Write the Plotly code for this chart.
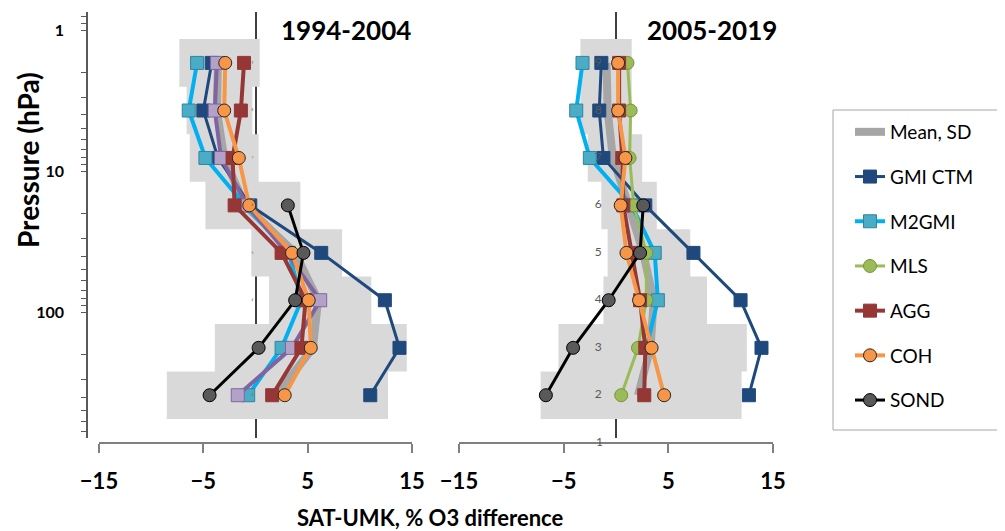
import math
import plotly.graph_objects as go

# Umkehr layer numbers and the pressure (hPa) at which each layer is drawn
LAYERS = ["1", "2", "3", "4", "5", "6", "7", "8", "9"]
LAYER_P = [849, 388, 179, 82.3, 38.0, 17.5, 8.07, 3.72, 1.71]
P = LAYER_P[1:]  # data layers 2..9

# 1994-2004 (values for layers 2..9, % difference)
L_MEAN = [2.0, 5.5, 6.0, 3.8, -1.0, -3.0, -3.7, -3.6]
L_SD_LO = [-8.5, -3.9, 1.3, -0.4, -4.8, -6.3, -6.6, -7.3]
L_SD_HI = [12.7, 14.5, 11.1, 8.3, 4.3, 0.3, -0.3, 0.4]
L_GMI = [11.0, 13.8, 12.4, 6.3, -0.5, -3.6, -5.0, -4.2]
L_M2GMI = [-0.7, 2.5, 4.4, 3.2, -1.0, -4.8, -6.4, -5.6]
L_OTHER = [-1.7, 3.5, 6.2, 3.0, -0.8, -3.3, -3.9, -3.7]
L_AGG = [1.6, 4.4, 4.8, 2.5, -2.0, -2.2, -1.4, -1.1]
L_COH = [2.8, 5.3, 5.1, 3.5, -0.6, -1.6, -3.0, -2.9]
L_SOND = [-4.4, 0.3, 3.8, 4.6, 3.1, None, None, None]

# 2005-2019
R_MEAN = [2.1, 3.3, 3.6, 2.6, 1.2, -0.3, -0.8, -0.9]
R_SD_LO = [-7.2, -5.5, -1.2, -0.8, -1.4, -2.7, -3.4, -3.4]
R_SD_HI = [12.0, 12.5, 8.7, 7.1, 3.9, 2.5, 1.5, 1.5]
R_GMI = [12.7, 13.9, 11.9, 7.4, 2.8, -1.2, -1.6, -1.4]
R_M2GMI = [None, 2.9, 4.0, 3.7, 1.5, -2.5, -3.8, -3.2]
R_MLS = [0.5, 2.1, 2.9, 2.9, 1.7, 1.3, 1.4, 1.1]
R_AGG = [2.7, 2.8, 2.3, 1.5, 0.7, 0.6, 0.3, 0.3]
R_COH = [4.6, 3.4, 2.2, 1.0, 0.45, 0.9, 0.2, 0.2]
R_SOND = [-6.7, -4.1, -0.7, 2.3, 2.6, None, None, None]

FONT = "Lato"
OFF = 8  # page body margin
W, H = 1005 - OFF, 531 - OFF


def px_x(v):
    return (v - OFF) / W


def px_y(v):
    return 1 - (v - OFF) / H


# layer edges (geometric midpoints between layers)
edges = [P[0] * math.sqrt(P[0] / P[1])]
for a, b in zip(P[:-1], P[1:]):
    edges.append(math.sqrt(a * b))
edges.append(P[-1] / math.sqrt(P[-2] / P[-1]))


def sd_boxes(lo, hi, xa, ya):
    xs, ys = [], []
    for i in range(len(P)):
        xs += [lo[i], hi[i], hi[i], lo[i], lo[i], None]
        ys += [edges[i], edges[i], edges[i + 1], edges[i + 1], edges[i], None]
    return go.Scatter(x=xs, y=ys, xaxis=xa, yaxis=ya, mode="lines", fill="toself",
                      fillcolor="#d9d9d9", line=dict(width=0), showlegend=False,
                      hoverinfo="skip")


def series(x, name, xa, ya, color, mcolor, symbol, lw=4, edge=None, show=True, rank=None):
    return go.Scatter(
        x=x, y=P, xaxis=xa, yaxis=ya, name=name, mode="lines+markers",
        line=dict(color=color, width=lw),
        marker=dict(symbol=symbol, size=13, color=mcolor,
                    line=dict(color=edge or color, width=1)),
        legendgroup=name, showlegend=show, legendrank=rank,
    )


fig = go.Figure()

for xa, ya, lo, hi, mean, rows, show in [
    ("x", "y", L_SD_LO, L_SD_HI, L_MEAN,
     [("GMI CTM", L_GMI), ("M2GMI", L_M2GMI), ("other", L_OTHER), ("AGG", L_AGG),
      ("COH", L_COH), ("SOND", L_SOND)], True),
    ("x2", "y2", R_SD_LO, R_SD_HI, R_MEAN,
     [("GMI CTM", R_GMI), ("M2GMI", R_M2GMI), ("MLS", R_MLS), ("AGG", R_AGG),
      ("COH", R_COH), ("SOND", R_SOND)], False),
]:
    fig.add_trace(sd_boxes(lo, hi, xa, ya))
    fig.add_trace(go.Scatter(x=mean, y=P, xaxis=xa, yaxis=ya, name="Mean, SD",
                             mode="lines", line=dict(color="#a6a6a6", width=8),
                             legendgroup="Mean, SD", showlegend=show, legendrank=1))
    for name, vals in rows:
        if name == "GMI CTM":
            fig.add_trace(series(vals, name, xa, ya, "#1f497d", "#1f497d", "square",
                                 lw=3, show=show, rank=2))
        elif name == "M2GMI":
            fig.add_trace(series(vals, name, xa, ya, "#00b0f0", "#4bacc6", "square",
                                 edge="#31859c", show=show, rank=3))
        elif name == "other":
            fig.add_trace(series(vals, name, xa, ya, "#8064a2", "#b3a2c7", "square",
                                 edge="#8064a2", show=False))
        elif name == "MLS":
            fig.add_trace(series(vals, name, xa, ya, "#9bbb59", "#9bbb59", "circle",
                                 lw=3, edge="#77933c", show=True, rank=4))
        elif name == "AGG":
            fig.add_trace(series(vals, name, xa, ya, "#953735", "#953735", "square",
                                 show=show, rank=5))
        elif name == "COH":
            fig.add_trace(series(vals, name, xa, ya, "#f79646", "#f79646", "circle",
                                 edge="#262626", show=show, rank=6))
        elif name == "SOND":
            fig.add_trace(series(vals, name, xa, ya, "#000000", "#595959", "circle",
                                 lw=3, edge="#000000", show=show, rank=7))

# layer number labels (layer 1 sits below the axis range, so it is a paper annotation)
fig.add_trace(go.Scatter(x=[-1.7] * len(P), y=P, text=LAYERS[1:], mode="text",
                         xaxis="x2", yaxis="y2", textfont=dict(size=12, color="#595959", family=FONT),
                         cliponaxis=False, showlegend=False, hoverinfo="skip"))
fig.add_trace(go.Scatter(x=[-0.3] * len(P), y=P, text=LAYERS[1:], mode="text",
                         xaxis="x", yaxis="y", textfont=dict(size=3, color="#595959", family=FONT),
                         cliponaxis=False, showlegend=False, hoverinfo="skip"))

# pressure axis ticks
yticks, ytext = [], []
for dec in [0.1, 1, 10, 100]:
    for m in range(1, 10):
        v = round(m * dec, 3)
        if 0.78 <= v <= 780:
            yticks.append(v)
            ytext.append(str(int(v)) if m == 1 and v >= 1 else "")

yrange = [math.log10(780), math.log10(0.745)]
ydom = [px_y(438), px_y(12)]
xticks = [-15, -5, 5, 15]

xcommon = dict(range=[-15, 15], tickvals=xticks, showgrid=False, anchor="free",
               position=px_y(443), zeroline=True, zerolinecolor="#404040", zerolinewidth=1.5,
               automargin=False)
xtickover = dict(range=[-15, 15], tickvals=xticks, ticks="inside", ticklen=10,
                 tickcolor="#808080", tickwidth=1.5, showticklabels=False, showline=False,
                 showgrid=False, zeroline=False, anchor="free", position=px_y(443),
                 automargin=False)
xmain = dict(showline=True, linecolor="#808080", linewidth=1.5,
             ticks="outside", ticklen=9, tickcolor="#808080", tickwidth=1.5,
             tickfont=dict(size=22, family=FONT, weight="bold"), ticklabelstandoff=10)

fig.update_layout(
    width=W, height=H, margin=dict(l=0, r=0, t=0, b=0, autoexpand=False),
    plot_bgcolor="white", paper_bgcolor="white",
    font=dict(family=FONT, color="#000000"),
    xaxis=dict(domain=[px_x(99), px_x(412)], **xmain, **xcommon),
    xaxis2=dict(domain=[px_x(459), px_x(773)], **xmain, **xcommon),
    xaxis3=dict(overlaying="x", **xtickover),
    xaxis4=dict(overlaying="x2", **xtickover),
    yaxis=dict(type="log", range=yrange, domain=ydom, anchor="free", position=px_x(87),
               showline=True, linecolor="#595959", linewidth=1.5, ticks="outside", ticklen=5,
               tickcolor="#595959", tickvals=yticks, ticktext=ytext, showgrid=False,
               tickfont=dict(size=16, family=FONT, weight="bold"), ticklabelstandoff=14,
               automargin=False),
    yaxis2=dict(type="log", range=yrange, domain=ydom, anchor="x2", visible=False,
                showgrid=False, automargin=False),
    legend=dict(x=px_x(850), y=px_y(113), xanchor="left", yanchor="top",
                bgcolor="rgba(0,0,0,0)", borderwidth=0, traceorder="grouped", tracegroupgap=17,
                font=dict(size=19, family=FONT), itemwidth=30),
    shapes=[dict(type="rect", xref="paper", yref="paper", x0=px_x(833), x1=px_x(1001),
                 y0=px_y(430), y1=px_y(110), line=dict(color="#a6a6a6", width=1))],
    annotations=[
        dict(text=LAYERS[0], x=px_x(599), y=px_y(441), xref="paper", yref="paper",
             xanchor="center", yanchor="middle", showarrow=False,
             font=dict(size=12, color="#595959")),
        dict(text="<b>1994-2004</b>", x=px_x(346), y=px_y(30), xref="paper", yref="paper",
             xanchor="center", yanchor="middle", showarrow=False, font=dict(size=26)),
        dict(text="<b>2005-2019</b>", x=px_x(712), y=px_y(30), xref="paper", yref="paper",
             xanchor="center", yanchor="middle", showarrow=False, font=dict(size=26)),
        dict(text="<b>Pressure (hPa)</b>", x=px_x(28), y=px_y(160), xref="paper", yref="paper",
             xanchor="center", yanchor="middle", showarrow=False, textangle=-90,
             font=dict(size=28)),
        dict(text="<b>SAT-UMK, % O3 difference</b>", x=px_x(430), y=px_y(517), xref="paper",
             yref="paper", xanchor="center", yanchor="middle", showarrow=False,
             font=dict(size=22)),
    ],
)

fig.write_html("out.html")
